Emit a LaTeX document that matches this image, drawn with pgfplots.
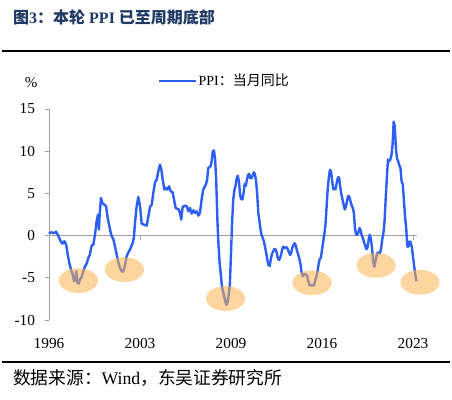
\documentclass[border=0pt]{standalone}
\usepackage{fontspec}
\setmainfont{Liberation Serif}
\newfontfamily\cjk{Noto Sans CJK SC}
\usepackage{pgfplots}
\pgfplotsset{compat=1.18}
\definecolor{ppiblue}{RGB}{45,95,245}
\definecolor{axgray}{RGB}{160,160,160}
\definecolor{ellorange}{RGB}{251,178,78}
\definecolor{titlenavy}{RGB}{31,56,100}
\begin{document}
\begin{tikzpicture}
\useasboundingbox (0pt,0pt) rectangle (452pt,-399pt);
\node[anchor=west, inner sep=0pt, text=titlenavy, font=\fontsize{16}{19}\selectfont\bfseries] at (13pt,-17.5pt) {{\cjk 图}3{\cjk ：本轮} PPI {\cjk 已至周期底部}};
\draw[line width=2.3pt] (2pt,-51.3pt) -- (450pt,-51.3pt);
\draw[line width=2.0pt] (2pt,-362.3pt) -- (450pt,-362.3pt);
\node[anchor=west, inner sep=0pt, font=\fontsize{17.7}{20}\selectfont] at (13pt,-377.5pt) {{\cjk 数据来源：}Wind{\cjk ，东吴证券研究所}};
\node[anchor=center, inner sep=0pt, font=\fontsize{15}{18}\selectfont] at (31pt,-83pt) {\%};
\begin{axis}[
  at={(49pt,-320pt)}, anchor=south west,
  scale only axis, width=368.55pt, height=211pt,
  xmin=1996.5, xmax=2023.5, ymin=-10, ymax=15,
  clip=false,
  axis lines=left,
  x axis line style={draw=none},
  y axis line style={-, draw=axgray, line width=0.8pt},
  xtick={1996.5,2003.1667,2009.8333,2016.5,2023.1667},
  xticklabels={1996,2003,2009,2016,2023},
  xtick style={draw=none},
  ytick={-10,-5,0,5,10,15},
  yticklabels={-10,-5,0,5,10,15},
  ytick style={draw=axgray, line width=0.8pt},
  tick align=outside, major tick length=4.5pt,
  ticklabel style={font=\fontsize{15.3}{18}\selectfont},
  xticklabel style={yshift=-10pt},
  yticklabel style={xshift=-6pt},
  legend style={at={(axis description cs:0.2958,1.134)}, anchor=west, draw=none, fill=none, inner sep=0pt, column sep=0pt, font=\fontsize{14}{16}\selectfont, nodes={inner sep=1pt}},
  legend image code/.code={\draw[#1] (0pt,0pt) -- (37pt,0pt);},
]
\addplot[forget plot, draw=axgray, line width=0.8pt] coordinates {(1996.5,0) (2023.45,0)};
\addplot[forget plot, only marks, mark=|, mark size=2.25pt, mark options={draw=axgray, line width=0.8pt}] coordinates {(2003.1667,-0.267) (2009.8333,-0.267) (2016.5,-0.267) (2023.1667,-0.267)};
\addplot[ppiblue, line width=2.4pt, line join=round] coordinates {
(1996.50,0.24)(1996.62,0.35)(1996.70,0.40)(1996.80,0.30)(1996.89,0.32)(1997.01,0.47)(1997.14,0.12)(1997.22,-0.15)
(1997.30,-0.47)(1997.40,-0.80)(1997.48,-0.95)(1997.55,-0.85)(1997.62,-0.67)(1997.70,-0.85)(1997.77,-1.18)(1997.87,-2.25)
(1997.99,-3.24)(1998.11,-4.03)(1998.24,-4.62)(1998.33,-5.41)(1998.43,-5.21)(1998.50,-4.23)(1998.57,-5.53)(1998.67,-5.69)
(1998.77,-5.21)(1998.89,-4.90)(1999.01,-4.23)(1999.14,-3.63)(1999.26,-3.32)(1999.38,-2.65)(1999.50,-2.25)(1999.57,-1.60)
(1999.63,-1.18)(1999.75,-1.07)(1999.87,0.12)(1999.99,1.70)(2000.09,2.49)(2000.16,0.71)(2000.21,2.49)(2000.31,4.46)
(2000.41,3.87)(2000.55,3.67)(2000.68,3.48)(2000.80,2.09)(2000.97,0.71)(2001.09,-0.08)(2001.21,-0.39)(2001.33,-1.26)
(2001.46,-2.25)(2001.58,-3.16)(2001.70,-3.83)(2001.83,-4.23)(2001.95,-4.23)(2002.07,-3.50)(2002.19,-2.45)(2002.31,-2.00)
(2002.43,-1.66)(2002.63,-0.87)(2002.72,-0.20)(2002.80,1.50)(2002.92,3.48)(2003.04,4.58)(2003.17,3.48)(2003.29,1.42)
(2003.46,1.30)(2003.66,1.18)(2003.78,2.29)(2003.90,3.40)(2004.03,3.67)(2004.14,5.06)(2004.27,6.32)(2004.39,6.64)
(2004.51,7.62)(2004.63,8.41)(2004.73,7.82)(2004.83,6.64)(2004.95,5.45)(2005.07,5.65)(2005.17,5.45)(2005.29,5.85)
(2005.42,5.25)(2005.56,5.13)(2005.66,4.26)(2005.78,3.28)(2005.90,3.16)(2006.02,3.08)(2006.12,2.49)(2006.19,1.90)
(2006.29,3.40)(2006.46,3.55)(2006.59,3.48)(2006.71,2.88)(2006.83,3.28)(2006.95,2.61)(2007.07,3.00)(2007.20,2.69)
(2007.32,2.88)(2007.44,2.37)(2007.56,2.69)(2007.68,4.26)(2007.80,5.45)
(2008.000,6.1)(2008.083,6.6)(2008.167,8.0)(2008.250,8.1)(2008.333,8.2)(2008.417,8.8)(2008.500,10.0)(2008.583,10.1)(2008.667,9.1)(2008.750,6.6)(2008.833,2.0)(2008.917,-1.1)
(2009.000,-3.3)(2009.083,-4.5)(2009.167,-6.0)(2009.250,-6.6)(2009.333,-7.2)(2009.417,-7.8)(2009.500,-8.2)(2009.583,-7.9)(2009.667,-7.0)(2009.750,-5.8)(2009.833,-2.1)(2009.917,1.7)
(2010.000,4.3)(2010.083,5.4)(2010.167,5.9)(2010.250,6.8)(2010.333,7.1)(2010.417,6.4)(2010.500,4.8)(2010.583,4.3)(2010.667,4.3)(2010.750,5.0)(2010.833,6.1)(2010.917,5.9)
(2011.000,6.6)(2011.083,7.2)(2011.167,7.3)(2011.250,6.8)(2011.333,6.8)(2011.417,7.1)(2011.500,7.5)(2011.583,7.3)(2011.667,6.5)(2011.750,5.0)(2011.833,2.7)(2011.917,1.7)
(2012.000,0.7)(2012.083,0.0)(2012.167,-0.3)(2012.250,-0.7)(2012.333,-1.4)(2012.417,-2.1)(2012.500,-2.9)(2012.583,-3.5)(2012.667,-3.6)(2012.750,-2.8)(2012.833,-2.2)(2012.917,-1.9)
(2013.000,-1.6)(2013.083,-1.6)(2013.167,-1.9)(2013.250,-2.6)(2013.333,-2.9)(2013.417,-2.7)(2013.500,-2.3)(2013.583,-1.6)(2013.667,-1.3)(2013.750,-1.5)(2013.833,-1.4)(2013.917,-1.4)
(2014.000,-1.6)(2014.083,-2.0)(2014.167,-2.3)(2014.250,-2.0)(2014.333,-1.4)(2014.417,-1.1)(2014.500,-0.9)(2014.583,-1.2)(2014.667,-1.8)(2014.750,-2.2)(2014.833,-2.7)(2014.917,-3.3)
(2015.000,-4.3)(2015.083,-4.8)(2015.167,-4.6)(2015.250,-4.6)(2015.333,-4.6)(2015.417,-4.8)(2015.500,-5.4)(2015.583,-5.9)(2015.667,-5.9)(2015.750,-5.9)(2015.833,-5.9)(2015.917,-5.9)
(2016.000,-5.3)(2016.083,-4.9)(2016.167,-4.3)(2016.250,-3.4)(2016.333,-2.8)(2016.417,-2.6)(2016.500,-1.7)(2016.583,-0.8)(2016.667,0.1)(2016.750,1.2)(2016.833,3.3)(2016.917,5.5)
(2017.000,6.9)(2017.083,7.8)(2017.167,7.6)(2017.250,6.4)(2017.333,5.5)(2017.417,5.5)(2017.500,5.5)(2017.583,6.3)(2017.667,6.9)(2017.750,6.9)(2017.833,5.8)(2017.917,4.9)
(2018.000,4.3)(2018.083,3.7)(2018.167,3.1)(2018.250,3.4)(2018.333,4.1)(2018.417,4.7)(2018.500,4.6)(2018.583,4.1)(2018.667,3.6)(2018.750,3.3)(2018.833,2.7)(2018.917,0.9)
(2019.000,0.1)(2019.083,0.1)(2019.167,0.4)(2019.250,0.9)(2019.333,0.6)(2019.417,0.0)(2019.500,-0.3)(2019.583,-0.8)(2019.667,-1.2)(2019.750,-1.6)(2019.833,-1.4)(2019.917,-0.5)
(2020.000,0.1)(2020.083,-0.4)(2020.167,-1.5)(2020.250,-3.1)(2020.333,-3.7)(2020.417,-3.0)(2020.500,-2.4)(2020.583,-2.0)(2020.667,-2.1)(2020.750,-2.1)(2020.833,-1.5)(2020.917,-0.4)
(2021.000,0.3)(2021.083,1.7)(2021.167,4.4)(2021.250,6.8)(2021.333,9.0)(2021.417,8.8)(2021.500,9.0)(2021.583,9.5)(2021.667,10.7)(2021.750,13.5)(2021.833,12.9)(2021.917,10.3)
(2022.000,9.1)(2022.083,8.8)(2022.167,8.3)(2022.250,8.0)(2022.333,6.4)(2022.417,6.1)(2022.500,4.2)(2022.583,2.3)(2022.667,0.9)(2022.750,-1.3)(2022.833,-1.3)(2022.917,-0.7)
(2023.000,-0.8)(2023.083,-1.4)(2023.167,-2.5)(2023.250,-3.6)(2023.333,-4.6)(2023.417,-5.4)
};
\addlegendentry{PPI{\cjk ：当月同比}}
\addplot[forget plot, only marks, color=ellorange, mark=*, mark size=12.4pt, mark options={draw=ellorange, fill=ellorange, draw opacity=0, fill opacity=0.55, xscale=1.58}] coordinates {(1998.65,-5.33) (2002.02,-4.03) (2009.44,-7.46) (2015.77,-5.60) (2020.46,-3.52) (2023.68,-5.53)};
\end{axis}
\end{tikzpicture}
\end{document}
